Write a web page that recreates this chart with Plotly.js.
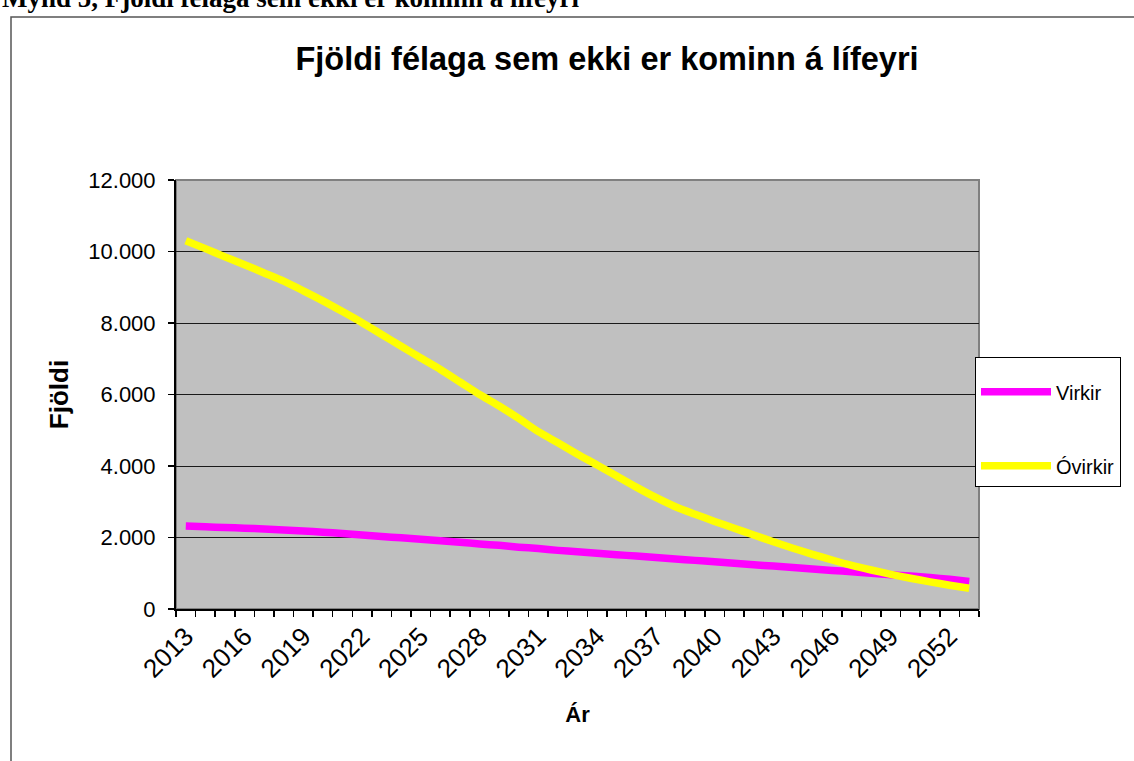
<!DOCTYPE html>
<html>
<head>
<meta charset="utf-8">
<script src="https://cdn.plot.ly/plotly-3.0.1.min.js"></script>
<style>
  html, body { margin: 0; padding: 0; background: #ffffff; }
  #chart { width: 1134px; height: 761px; }
</style>
</head>
<body>
<div id="chart"></div>
<script>
// ---- Data ----
const years = [2013, 2014, 2015, 2016, 2017, 2018, 2019, 2020, 2021, 2022,
               2023, 2024, 2025, 2026, 2027, 2028, 2029, 2030, 2031, 2032,
               2033, 2034, 2035, 2036, 2037, 2038, 2039, 2040, 2041, 2042,
               2043, 2044, 2045, 2046, 2047, 2048, 2049, 2050, 2051, 2052, 2053];
const virkir = [2320, 2300, 2280, 2260, 2240, 2210, 2180, 2150, 2110, 2070,
                2030, 1990, 1950, 1910, 1870, 1820, 1780, 1730, 1690, 1640,
                1600, 1560, 1520, 1480, 1440, 1400, 1360, 1320, 1280, 1240,
                1200, 1160, 1120, 1080, 1040, 1000, 960, 920, 880, 830, 770];
const ovirkir = [10300, 10080, 9850, 9630, 9400, 9170, 8900, 8620, 8320, 8010,
                 7680, 7350, 7020, 6700, 6350, 6000, 5680, 5330, 4960, 4650,
                 4330, 4030, 3720, 3410, 3120, 2860, 2650, 2450, 2260, 2070,
                 1880, 1700, 1530, 1370, 1220, 1090, 970, 860, 760, 665, 580];
const labelYears = [2013, 2016, 2019, 2022, 2025, 2028, 2031, 2034, 2037, 2040, 2043, 2046, 2049, 2052];
const labelText = ["2013", "2016", "2019", "2022", "2025", "2028", "2031", "2034", "2037", "2040", "2043", "2046", "2049", "2052"];
const seriesNames = ["Virkir", "Óvirkir"];
const chartTitle = "Fjöldi félaga sem ekki er kominn á lífeyri";
const caption = "Mynd 5, Fjöldi félaga sem ekki er kominn á lífeyri";

// ---- Layout geometry ----
const W = 1134, H = 761;
const M = { l: 176, r: 155, t: 180, b: 152 };
const PW = W - M.l - M.r, PH = H - M.t - M.b;
const px = x => (x - M.l) / PW;
const py = y => (H - M.b - y) / PH;

const sans = "Liberation Sans, Arial, sans-serif";

const traces = [
  { x: years, y: virkir, name: seriesNames[0], type: "scatter", mode: "lines",
    legendgroup: "a",
    line: { color: "#FF00FF", width: 7.5, shape: "spline", smoothing: 0.6 } },
  { x: years, y: ovirkir, name: seriesNames[1], type: "scatter", mode: "lines",
    legendgroup: "b",
    line: { color: "#FFFF00", width: 7.5, shape: "spline", smoothing: 0.6 } }
];

const layout = {
  width: W, height: H,
  margin: M,
  paper_bgcolor: "#ffffff",
  plot_bgcolor: "#C0C0C0",
  separators: ",.",
  showlegend: true,
  font: { family: sans, color: "#000000" },
  title: {
    text: "<b>" + chartTitle + "</b>",
    font: { family: sans, size: 32.5, color: "#000" },
    x: px(607), xanchor: "center", xref: "paper",
    y: 1 - 59 / H, yanchor: "middle"
  },
  xaxis: {
    range: [2012.5, 2053.5],
    tickmode: "array", tickvals: labelYears, ticktext: labelText,
    tickangle: -45,
    ticks: "", ticklen: 0,
    tickfont: { family: sans, size: 26, color: "#000" },
    showgrid: false, zeroline: false,
    showline: true, linecolor: "#000", linewidth: 2,
    minor: { tickmode: "linear", tick0: 2012.5, dtick: 1, ticks: "outside",
             ticklen: 6, tickcolor: "#000", tickwidth: 1.5, showgrid: false },
    title: { text: "<b>Ár</b>", font: { family: sans, size: 22, color: "#000" }, standoff: 24 },
    fixedrange: true
  },
  yaxis: {
    range: [0, 12000], dtick: 2000, tick0: 0,
    tickformat: ",d",
    ticks: "outside", ticklen: 6, tickcolor: "#000", tickwidth: 1.5,
    ticklabelstandoff: 8,
    tickfont: { family: sans, size: 22, color: "#000" },
    showgrid: true, gridcolor: "#1a1a1a", gridwidth: 1,
    zeroline: false,
    showline: true, linecolor: "#000", linewidth: 2,
    title: { text: "<b>Fjöldi</b>", font: { family: sans, size: 26, color: "#000" }, standoff: 12 },
    fixedrange: true
  },
  legend: {
    x: px(975), y: py(357), xanchor: "left", yanchor: "top",
    bgcolor: "#ffffff", bordercolor: "#000", borderwidth: 1,
    font: { family: sans, size: 20, color: "#000" },
    title: { text: " ", font: { family: sans, size: 11 } },
    tracegroupgap: 45,
    itemwidth: 70
  },
  shapes: [
    // plot area border
    { type: "rect", xref: "paper", yref: "paper", x0: 0, x1: 1, y0: 0, y1: 1,
      line: { color: "#808080", width: 2 }, fillcolor: "rgba(0,0,0,0)", layer: "between" },
    // chart frame
    { type: "rect", xref: "paper", yref: "paper",
      x0: px(11), x1: px(1145), y0: py(775), y1: py(17),
      line: { color: "#555555", width: 1.5 }, fillcolor: "rgba(0,0,0,0)", layer: "below" }
  ],
  annotations: [
    { text: "<b>" + caption + "</b>", xref: "paper", yref: "paper",
      x: px(0), y: py(-2), xanchor: "left", yanchor: "middle", showarrow: false,
      font: { family: "Liberation Serif, Times New Roman, serif", size: 27, color: "#000" } }
  ]
};

Plotly.newPlot("chart", traces, layout, { displayModeBar: false, staticPlot: true });
</script>
</body>
</html>
